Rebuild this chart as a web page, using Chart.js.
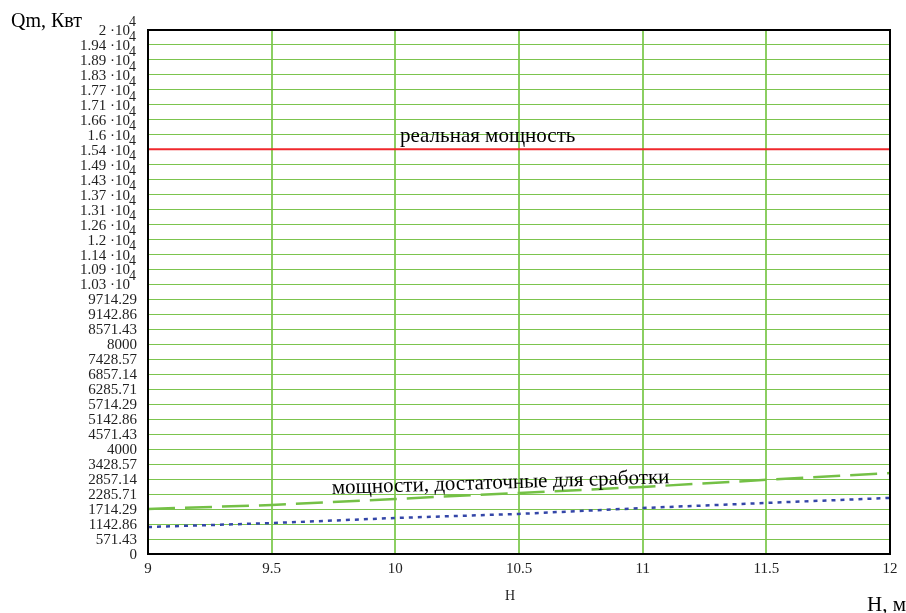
<!DOCTYPE html>
<html>
<head>
<meta charset="utf-8">
<script src="https://cdn.jsdelivr.net/npm/chart.js@4.4.1/dist/chart.umd.min.js"></script>
<style>
    html, body { margin: 0; padding: 0; background: #fff; }
</style>
</head>
<body>
<canvas id="powerChart" width="906" height="613"></canvas>
<script>
// H, m
const hValues = [9, 9.5, 10, 10.5, 11, 11.5, 12];
// real power, kW (constant)
const realPower = [15450, 15450, 15450, 15450, 15450, 15450, 15450];
// powers sufficient for drawdown
const sufficientUpper = [1720, 1870, 2100, 2330, 2560, 2830, 3090];
const sufficientLower = [1030, 1180, 1375, 1530, 1755, 1950, 2140];

const xTickLabels = ['9', '9.5', '10', '10.5', '11', '11.5', '12'];
const yTickLabels = [
    '0', '571.43', '1142.86', '1714.29', '2285.71', '2857.14', '3428.57', '4000',
    '4571.43', '5142.86', '5714.29', '6285.71', '6857.14', '7428.57', '8000',
    '8571.43', '9142.86', '9714.29',
    '1.03 ·10^4', '1.09 ·10^4', '1.14 ·10^4', '1.2 ·10^4', '1.26 ·10^4', '1.31 ·10^4',
    '1.37 ·10^4', '1.43 ·10^4', '1.49 ·10^4', '1.54 ·10^4', '1.6 ·10^4', '1.66 ·10^4',
    '1.71 ·10^4', '1.77 ·10^4', '1.83 ·10^4', '1.89 ·10^4', '1.94 ·10^4', '2 ·10^4'
];
const yMax = 20000;

const serif = '"Liberation Serif", "Times New Roman", serif';

function toPoints(ys) {
    return hValues.map((h, i) => ({ x: h, y: ys[i] }));
}

// Mathcad-like labels, frame and annotations
const mathcadPlugin = {
    id: 'mathcadPlugin',
    afterDatasetsDraw(chart) {
        const ctx = chart.ctx;
        const area = chart.chartArea;
        const yScale = chart.scales.y;

        ctx.save();
        // frame
        ctx.strokeStyle = '#000';
        ctx.lineWidth = 2;
        ctx.strokeRect(area.left, area.top, area.right - area.left, area.bottom - area.top);

        // y tick labels
        ctx.fillStyle = '#222';
        ctx.textBaseline = 'middle';
        yScale.ticks.forEach((tick, i) => {
            const y = yScale.getPixelForValue(tick.value) + 1;
            const label = yTickLabels[i];
            const right = 137;
            if (label.indexOf('^') >= 0) {
                const parts = label.split('^');
                ctx.font = '14px ' + serif;
                ctx.textAlign = 'right';
                ctx.fillText(parts[1], right - 1, y - 9);
                const expW = ctx.measureText(parts[1]).width;
                ctx.font = '15px ' + serif;
                ctx.fillText(parts[0], right - expW, y);
            } else {
                ctx.font = '15px ' + serif;
                ctx.textAlign = 'right';
                ctx.fillText(label, right, y);
            }
        });

        // axis titles
        ctx.fillStyle = '#000';
        ctx.textAlign = 'left';
        ctx.textBaseline = 'alphabetic';
        ctx.font = '20px ' + serif;
        ctx.fillText('Qm, Квт', 11, 27);
        ctx.font = '21px ' + serif;
        ctx.fillText('H, м', 867, 611);
        ctx.font = '14px ' + serif;
        ctx.fillStyle = '#222';
        ctx.fillText('H', 505, 600);

        // line annotations
        ctx.fillStyle = '#000';
        ctx.font = '21px ' + serif;
        ctx.fillText('реальная мощность', 400, 142);
        ctx.translate(332, 494);
        ctx.rotate(-1.85 * Math.PI / 180);
        ctx.fillText('мощности, достаточные для сработки', 0, 0);
        ctx.restore();
    }
};

const powerChartConfig = {
    type: 'line',
    data: {
        datasets: [
            {
                label: 'реальная мощность',
                data: toPoints(realPower),
                borderColor: '#f0282d',
                borderWidth: 2,
                pointRadius: 0
            },
            {
                label: 'мощности, достаточные для сработки (1)',
                data: toPoints(sufficientUpper),
                borderColor: '#74c046',
                borderWidth: 2.5,
                borderDash: [27, 10],
                pointRadius: 0
            },
            {
                label: 'мощности, достаточные для сработки (2)',
                data: toPoints(sufficientLower),
                borderColor: '#3446a8',
                borderWidth: 2.5,
                borderDash: [4, 5],
                pointRadius: 0
            }
        ]
    },
    options: {
        responsive: false,
        animation: false,
        devicePixelRatio: 1,
        layout: { padding: { top: 30, right: 16, left: 0, bottom: 0 } },
        plugins: {
            legend: { display: false },
            tooltip: { enabled: false }
        },
        scales: {
            x: {
                type: 'linear',
                min: 9,
                max: 12,
                afterBuildTicks: (scale) => {
                    scale.ticks = hValues.map(v => ({ value: v }));
                },
                afterFit: (scale) => { scale.height = 59; },
                ticks: {
                    padding: 6,
                    color: '#222',
                    font: { family: serif, size: 15 },
                    callback: (value, index) => xTickLabels[index]
                },
                grid: { color: '#8ccf62', lineWidth: 2, drawTicks: false },
                border: { display: false }
            },
            y: {
                type: 'linear',
                min: 0,
                max: yMax,
                afterBuildTicks: (scale) => {
                    scale.ticks = yTickLabels.map((_, i) => ({ value: i * yMax / (yTickLabels.length - 1) }));
                },
                afterFit: (scale) => { scale.width = 148; },
                ticks: { display: false },
                grid: { color: '#7cc44e', lineWidth: 1, drawTicks: false },
                border: { display: false }
            }
        }
    },
    plugins: [mathcadPlugin]
};

document.addEventListener('DOMContentLoaded', function () {
    const powerChart = new Chart(document.getElementById('powerChart'), powerChartConfig);
});
</script>
</body>
</html>
